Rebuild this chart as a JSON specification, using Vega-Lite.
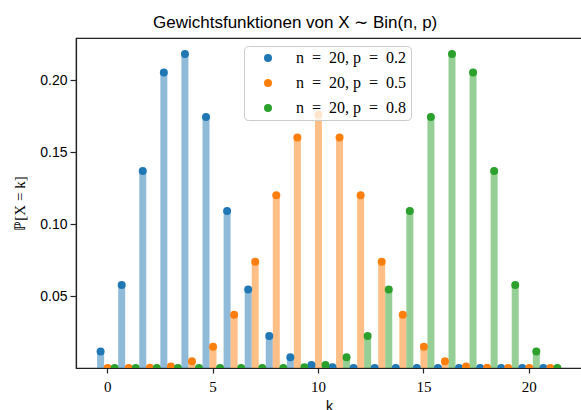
{
  "$schema": "https://vega.github.io/schema/vega-lite/v6.json",
  "autosize": "none",
  "padding": {"left": 76, "top": 38, "right": 0, "bottom": 42},
  "width": 506,
  "height": 330,
  "background": "white",
  "title": {
    "text": "Gewichtsfunktionen von X ∼ Bin(n, p)",
    "anchor": "start",
    "frame": "group",
    "dx": 77,
    "offset": -7,
    "baseline": "alphabetic",
    "font": "Liberation Sans",
    "fontSize": 17,
    "fontWeight": "normal",
    "color": "black"
  },
  "config": {
    "view": {"stroke": "#222", "strokeWidth": 1.2},
    "axis": {"grid": false, "domainColor": "#222", "domainWidth": 1.2, "tickColor": "#222", "tickWidth": 1.2, "tickSize": 5, "labelColor": "black", "titleColor": "black"}
  },
  "data": {
    "values": [
      {"k": 0, "p": 0.2, "pmf": 0.0115292}, {"k": 1, "p": 0.2, "pmf": 0.0576461}, {"k": 2, "p": 0.2, "pmf": 0.1369094},
      {"k": 3, "p": 0.2, "pmf": 0.2053641}, {"k": 4, "p": 0.2, "pmf": 0.2181994}, {"k": 5, "p": 0.2, "pmf": 0.1745595},
      {"k": 6, "p": 0.2, "pmf": 0.1090997}, {"k": 7, "p": 0.2, "pmf": 0.0545499}, {"k": 8, "p": 0.2, "pmf": 0.0221609},
      {"k": 9, "p": 0.2, "pmf": 0.007387}, {"k": 10, "p": 0.2, "pmf": 0.0020314}, {"k": 11, "p": 0.2, "pmf": 0.0004617},
      {"k": 12, "p": 0.2, "pmf": 0.0000866}, {"k": 13, "p": 0.2, "pmf": 0.0000133}, {"k": 14, "p": 0.2, "pmf": 0.0000017},
      {"k": 15, "p": 0.2, "pmf": 0.0000002}, {"k": 16, "p": 0.2, "pmf": 0}, {"k": 17, "p": 0.2, "pmf": 0},
      {"k": 18, "p": 0.2, "pmf": 0}, {"k": 19, "p": 0.2, "pmf": 0}, {"k": 20, "p": 0.2, "pmf": 0}, {"k": 21, "p": 0.2, "pmf": 0},
      {"k": 0, "p": 0.5, "pmf": 0.000001}, {"k": 1, "p": 0.5, "pmf": 0.000019}, {"k": 2, "p": 0.5, "pmf": 0.000181},
      {"k": 3, "p": 0.5, "pmf": 0.001087}, {"k": 4, "p": 0.5, "pmf": 0.004621}, {"k": 5, "p": 0.5, "pmf": 0.014786},
      {"k": 6, "p": 0.5, "pmf": 0.036964}, {"k": 7, "p": 0.5, "pmf": 0.073929}, {"k": 8, "p": 0.5, "pmf": 0.120134},
      {"k": 9, "p": 0.5, "pmf": 0.160179}, {"k": 10, "p": 0.5, "pmf": 0.176197}, {"k": 11, "p": 0.5, "pmf": 0.160179},
      {"k": 12, "p": 0.5, "pmf": 0.120134}, {"k": 13, "p": 0.5, "pmf": 0.073929}, {"k": 14, "p": 0.5, "pmf": 0.036964},
      {"k": 15, "p": 0.5, "pmf": 0.014786}, {"k": 16, "p": 0.5, "pmf": 0.004621}, {"k": 17, "p": 0.5, "pmf": 0.001087},
      {"k": 18, "p": 0.5, "pmf": 0.000181}, {"k": 19, "p": 0.5, "pmf": 0.000019}, {"k": 20, "p": 0.5, "pmf": 0.000001},
      {"k": 21, "p": 0.5, "pmf": 0},
      {"k": 0, "p": 0.8, "pmf": 0}, {"k": 1, "p": 0.8, "pmf": 0}, {"k": 2, "p": 0.8, "pmf": 0},
      {"k": 3, "p": 0.8, "pmf": 0}, {"k": 4, "p": 0.8, "pmf": 0}, {"k": 5, "p": 0.8, "pmf": 0.0000002},
      {"k": 6, "p": 0.8, "pmf": 0.0000017}, {"k": 7, "p": 0.8, "pmf": 0.0000133}, {"k": 8, "p": 0.8, "pmf": 0.0000866},
      {"k": 9, "p": 0.8, "pmf": 0.0004617}, {"k": 10, "p": 0.8, "pmf": 0.0020314}, {"k": 11, "p": 0.8, "pmf": 0.007387},
      {"k": 12, "p": 0.8, "pmf": 0.0221609}, {"k": 13, "p": 0.8, "pmf": 0.0545499}, {"k": 14, "p": 0.8, "pmf": 0.1090997},
      {"k": 15, "p": 0.8, "pmf": 0.1745595}, {"k": 16, "p": 0.8, "pmf": 0.2181994}, {"k": 17, "p": 0.8, "pmf": 0.2053641},
      {"k": 18, "p": 0.8, "pmf": 0.1369094}, {"k": 19, "p": 0.8, "pmf": 0.0576461}, {"k": 20, "p": 0.8, "pmf": 0.0115292},
      {"k": 21, "p": 0.8, "pmf": 0}
    ]
  },
  "encoding": {
    "x": {
      "field": "k", "type": "ordinal",
      "scale": {"type": "band", "domain": [0,1,2,3,4,5,6,7,8,9,10,11,12,13,14,15,16,17,18,19,20,21], "paddingInner": 0, "paddingOuter": 1.09},
      "axis": {"values": [0, 5, 10, 15, 20], "labelAngle": 0, "title": "k", "labelFont": "Liberation Serif", "labelFontSize": 15, "labelPadding": 6, "titleFont": "Liberation Sans", "titleFontSize": 14, "titleFontWeight": "normal", "titlePadding": 5}
    },
    "xOffset": {"field": "p", "type": "nominal", "scale": {"domain": [0.2, 0.5, 0.8], "paddingInner": 0, "paddingOuter": 0}},
    "y": {
      "field": "pmf", "type": "quantitative",
      "scale": {"domain": [0, 0.2294], "nice": false},
      "axis": {"values": [0.05, 0.1, 0.15, 0.2], "format": ".2f", "title": "ℙ[X = k]", "labelFont": "Liberation Sans", "labelFontSize": 14, "labelPadding": 3, "tickSize": 6, "titleFont": "Liberation Serif", "titleFontSize": 15, "titleFontWeight": "normal", "titlePadding": 12}
    },
    "color": {
      "field": "p", "type": "nominal",
      "scale": {"domain": [0.2, 0.5, 0.8], "range": ["#1f77b4", "#ff7f0e", "#2ca02c"]},
      "legend": {
        "title": null, "orient": "none", "legendX": 168, "legendY": 8,
        "labelExpr": "'n\u2002=\u200220, p\u2002=\u2002' + datum.label",
        "labelFont": "Liberation Serif", "labelFontSize": 16, "labelColor": "black",
        "symbolType": "circle", "symbolSize": 64, "symbolOpacity": 1, "symbolStrokeWidth": 0,
        "symbolOffset": 12, "labelOffset": 20,
        "rowPadding": 9, "padding": 4,
        "strokeColor": "#cccccc", "fillColor": "rgba(255,255,255,0.8)", "cornerRadius": 4
      }
    }
  },
  "layer": [
    {
      "mark": {"type": "rule", "strokeWidth": 7, "opacity": 0.5, "clip": true},
      "encoding": {"y2": {"datum": 0}}
    },
    {
      "mark": {"type": "circle", "size": 64, "opacity": 1, "clip": true}
    }
  ]
}
